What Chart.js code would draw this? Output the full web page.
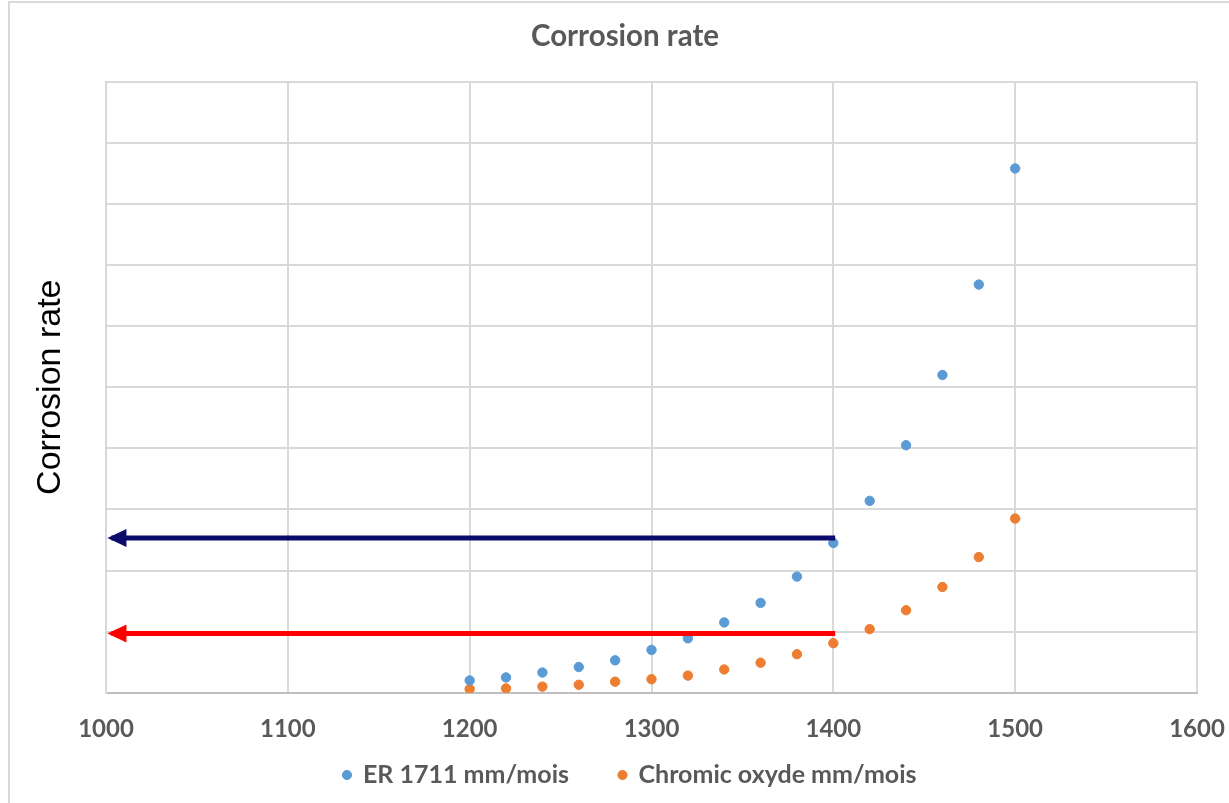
<!DOCTYPE html>
<html>
<head>
<meta charset="utf-8">
<script src="https://cdn.jsdelivr.net/npm/chart.js@4/dist/chart.umd.min.js"></script>
<style>
  html, body { margin: 0; padding: 0; background: #ffffff; }
  #wrap { position: relative; width: 1229px; height: 803px; overflow: hidden; }
  #frame { position: absolute; left: 8px; top: 1px; width: 1300px; height: 900px;
           border-left: 2px solid #d9d9d9; border-top: 2px solid #d9d9d9; pointer-events: none; }
  canvas { position: absolute; left: 0; top: 0; }
</style>
</head>
<body>
<div id="wrap">
  <canvas id="c" width="1229" height="803"></canvas>
  <div id="frame"></div>
</div>
<script>
// ---- data ----
const temperatures = [1200, 1220, 1240, 1260, 1280, 1300, 1320, 1340, 1360, 1380, 1400, 1420, 1440, 1460, 1480, 1500];
const er1711 =  [0.020, 0.025, 0.033, 0.042, 0.053, 0.070, 0.089, 0.115, 0.147, 0.190, 0.245, 0.314, 0.405, 0.520, 0.668, 0.858];
const chromic = [0.006, 0.007, 0.010, 0.013, 0.018, 0.022, 0.028, 0.038, 0.049, 0.063, 0.081, 0.104, 0.135, 0.173, 0.222, 0.285];
const seriesNames = ['ER 1711 mm/mois', 'Chromic oxyde mm/mois'];
const arrowLevels = [0.253, 0.097];      // navy arrow, red arrow (y values)
const arrowFromTo = [1003, 1401];        // x range of the arrows (head at the first)
const xTickValues = [1000, 1100, 1200, 1300, 1400, 1500, 1600];
const yRange = [0, 1, 0.1];              // min, max, step (labels hidden in reference)
const chartTitle = 'Corrosion rate';
const yTitle = 'Corrosion rate';

const GREY_TEXT = '#595959';
const GRID = '#d9d9d9';

function pts(xs, ys) { return xs.map((x, i) => ({ x: x, y: ys[i] })); }

const arrowHeads = {
  id: 'arrowHeads',
  afterDatasetsDraw(chart) {
    const ctx = chart.ctx;
    chart.data.datasets.forEach((ds, i) => {
      if (!ds.isArrow) return;
      const meta = chart.getDatasetMeta(i);
      const p0 = meta.data[0], p1 = meta.data[1];
      const dir = Math.sign(p1.x - p0.x) || 1;
      ctx.save();
      ctx.fillStyle = ds.borderColor;
      ctx.beginPath();
      ctx.moveTo(p0.x - dir * 4, p0.y);
      ctx.lineTo(p0.x + dir * 15, p0.y - 9);
      ctx.lineTo(p0.x + dir * 15, p0.y + 9);
      ctx.closePath();
      ctx.fill();
      ctx.restore();
    });
  }
};

const X_AXIS_H = 60;
const LEGEND_H = 803 - 692.7 - X_AXIS_H;
const LEGEND_FONT = 25;
const fixLayout = {
  id: 'fixLayout',
  beforeLayout(chart) {
    const lg = chart.legend;
    if (lg && !lg._patched) {
      const orig = lg.fit.bind(lg);
      lg.fit = function () { orig(); this.height = LEGEND_H; };
      lg._patched = true;
    }
  },
  afterLayout(chart) {
    const shift = (box, cx) => {
      if (!box) return;
      const d = cx - (box.left + box.right) / 2;
      box.left += d; box.right += d;
    };
    shift(chart.titleBlock, 625);
    shift(chart.legend, 630);
    const lg = chart.legend;
    if (lg) {
      lg.top = 775 - 50 - LEGEND_FONT / 2;   // text centre - label padding - half font
      lg.bottom = chart.height;
    }
  }
};

new Chart(document.getElementById('c'), {
  type: 'scatter',
  data: {
    datasets: [
      { label: seriesNames[0], data: pts(temperatures, er1711),
        backgroundColor: '#5b9bd5', borderColor: '#5b9bd5',
        pointRadius: 4.7, pointBorderWidth: 1, pointHoverRadius: 4.7, order: 2 },
      { label: seriesNames[1], data: pts(temperatures, chromic),
        backgroundColor: '#ed7d31', borderColor: '#ed7d31',
        pointRadius: 4.7, pointBorderWidth: 1, pointHoverRadius: 4.7, order: 2 },
      { label: 'arrow1', isArrow: true, type: 'line', showLine: true,
        data: arrowFromTo.map(x => ({ x: x, y: arrowLevels[0] })),
        borderColor: '#0b0b6b', borderWidth: 5, pointRadius: 0, borderCapStyle: 'butt', order: 0 },
      { label: 'arrow2', isArrow: true, type: 'line', showLine: true,
        data: arrowFromTo.map(x => ({ x: x, y: arrowLevels[1] })),
        borderColor: '#ff0000', borderWidth: 5, pointRadius: 0, borderCapStyle: 'butt', order: 0 }
    ]
  },
  options: {
    responsive: false,
    animation: false,
    devicePixelRatio: 1,
    layout: { padding: { left: 0, right: 32, top: 0, bottom: 0 } },
    plugins: {
      title: {
        display: true, text: chartTitle, color: GREY_TEXT,
        font: { family: 'Lato', size: 29.5, weight: 'bold' },
        padding: { top: 19, bottom: 27.3 }
      },
      legend: {
        position: 'bottom',
        labels: {
          usePointStyle: true, pointStyle: 'circle', boxWidth: 7, boxHeight: 6.5,
          padding: 50, color: GREY_TEXT,
          font: { family: 'Lato', size: LEGEND_FONT, weight: 'bold' },
          filter: (item, data) => !data.datasets[item.datasetIndex].isArrow
        }
      },
      tooltip: { enabled: false }
    },
    scales: {
      x: {
        type: 'linear', min: xTickValues[0], max: xTickValues[xTickValues.length - 1],
        afterBuildTicks: (s) => { s.ticks = xTickValues.map(v => ({ value: v })); },
        afterFit: (s) => { s.height = X_AXIS_H; s.paddingLeft = 0; s.paddingRight = 0; },
        grid: { color: GRID, lineWidth: 2, drawTicks: false },
        border: { color: '#bfbfbf', width: 2 },
        ticks: { color: GREY_TEXT, padding: 22, maxRotation: 0, autoSkip: false,
                 font: { family: 'Lato', size: 24, weight: 'bold' },
                 callback: (v) => String(v) }
      },
      y: {
        type: 'linear', min: yRange[0], max: yRange[1],
        afterFit: (s) => { s.width = 106; },
        grid: { color: GRID, lineWidth: 2, drawTicks: false },
        border: { color: GRID, width: 2 },
        ticks: { display: false, stepSize: yRange[2] },
        title: { display: true, text: yTitle, color: '#000000',
                 font: { family: 'Liberation Sans', size: 34 }, padding: { top: 30, bottom: 0 } }
      }
    }
  },
  plugins: [arrowHeads, fixLayout]
});
</script>
</body>
</html>
